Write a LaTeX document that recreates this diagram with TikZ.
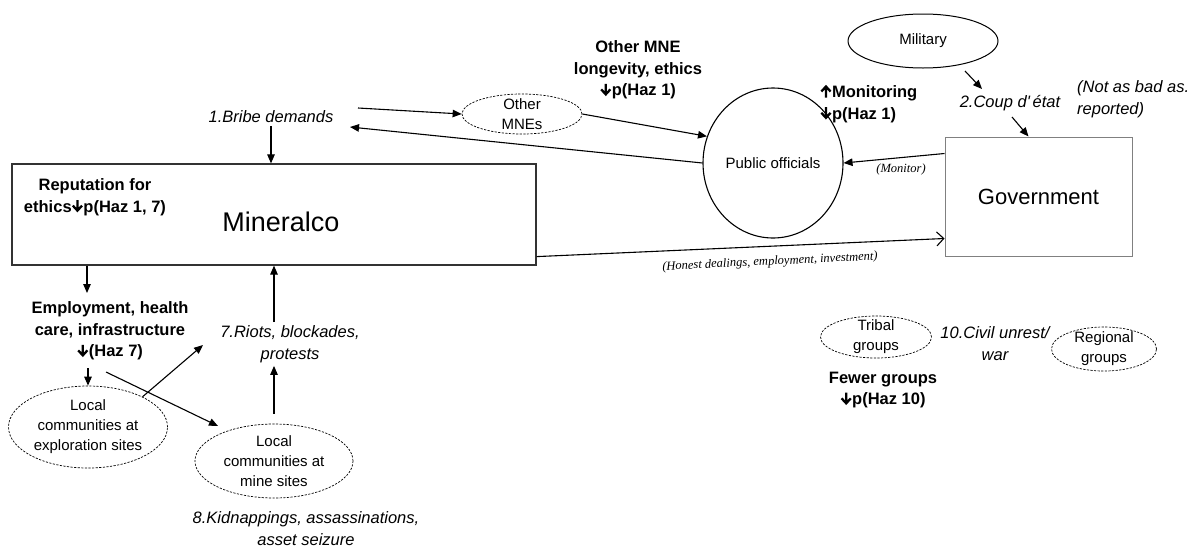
\documentclass[tikz,border=0pt]{standalone}
\usepackage{fontspec}
\setmainfont{Liberation Sans}
\newfontfamily\serifit{Liberation Serif}
\usetikzlibrary{arrows.meta,shapes.geometric,calc}
\newcommand{\dnarr}{\tikz[baseline=0pt]{\draw[line width=2.3pt, line join=miter, line cap=butt] (0pt,12pt) -- (0pt,2pt) (-4.6pt,6.4pt) -- (0pt,1.4pt) -- (4.6pt,6.4pt);}\hspace{0.3pt}}
\newcommand{\uparr}{\tikz[baseline=0pt]{\draw[line width=2.3pt, line join=miter, line cap=butt] (0pt,0pt) -- (0pt,10.5pt) (-4.6pt,6.2pt) -- (0pt,11.2pt) -- (4.6pt,6.2pt);}\hspace{0.3pt}}
\begin{document}
\begin{tikzpicture}[x=1pt,y=-1pt,
 arr/.style={draw, line width=1.1pt, -{Triangle[length=9pt,width=7.5pt]}},
 openarr/.style={draw, line width=1.1pt, -{Straight Barb[length=7pt,width=14pt,line width=1.1pt]}},
 dell/.style={ellipse, draw, line width=0.7pt, dash pattern=on 2.2pt off 1.4pt, align=center, inner sep=0pt, font=\fontsize{15}{20}\selectfont},
 blbl/.style={align=center, inner sep=3pt, font=\bfseries\fontsize{16.5}{21.5}\selectfont},
 ilbl/.style={align=center, inner sep=3pt, font=\itshape\fontsize{16.5}{22}\selectfont},
 slbl/.style={inner sep=1pt, font=\serifit\itshape\fontsize{12.5}{14}\selectfont},
]
\useasboundingbox (0,0) rectangle (1190,552);

% main boxes
\node[draw=black!80, line width=1.2pt, minimum width=524pt, minimum height=101pt, inner sep=0pt] (min) at (274,214.5) {};
\node[font=\fontsize{27}{30}\selectfont, inner sep=0pt] (mintxt) at (281,222) {Mineralco};
\node[draw=black!50, line width=1pt, minimum width=187pt, minimum height=119pt, inner sep=0pt, font=\fontsize{22}{26}\selectfont] (gov) at (1038.5,196.5) {Government};
\node[ellipse, draw, line width=1.1pt, minimum width=140pt, minimum height=150pt, inner sep=0pt, font=\fontsize{15}{20}\selectfont] (po) at (773,163) {Public officials};
\node[ellipse, draw, line width=1pt, minimum width=150pt, minimum height=54pt, inner sep=0pt, font=\fontsize{15}{20}\selectfont] (mil) at (923,41) {Military};

% dashed ellipses
\node[dell, minimum width=120pt, minimum height=40pt, inner ysep=-3pt] (mnes) at (522,114) {Other\\MNEs};
\node[dell, minimum width=159pt, minimum height=82pt] (expl) at (88,427) {Local\\communities at\\exploration sites};
\node[dell, minimum width=158pt, minimum height=74pt, inner ysep=-2pt] (mine) at (274,461) {Local\\communities at\\mine sites};
\node[dell, minimum width=111pt, minimum height=42pt, inner ysep=-3pt] (tribal) at (876,337) {Tribal\\groups};
\node[dell, minimum width=105pt, minimum height=44pt, inner ysep=-3pt] (regional) at (1104,349) {Regional\\groups};

% labels
\node[ilbl] (bribe) at (271,117) {1.Bribe demands};
\node[blbl] (othermne) at (638,70) {Other MNE\\longevity, ethics\\\dnarr p(Haz 1)};
\node[blbl, align=left, anchor=west] (monit) at (817,104) {\uparr Monitoring\\\dnarr p(Haz 1)};
\node[ilbl] (coup) at (1010,103) {2.Coup d\textquotesingle\,état};
\node[ilbl, align=left, anchor=west] (notbad) at (1074,99) {(Not as bad as.\\reported)};
\node[slbl] (monitor) at (901,169) {(Monitor)};
\node[slbl, rotate=2.8] (honest) at (770,262) {(Honest dealings, employment, investment)};
\node[blbl] (rep) at (95,197) {Reputation for\\ethics\dnarr p(Haz 1, 7)};
\node[blbl] (emp) at (110,331) {Employment, health\\care, infrastructure\\\dnarr(Haz 7)};
\node[ilbl] (riots) at (290,344) {7.Riots, blockades,\\protests};
\node[ilbl] (kid) at (306,529) {8.Kidnappings, assassinations,\\asset seizure};
\node[ilbl] (civil) at (995,344) {10.Civil unrest/\\war};
\node[blbl] (fewer) at (883,390) {Fewer groups\\\dnarr p(Haz 10)};

% free ends
\coordinate (b1) at (358,108);
\coordinate (b2) at (350,127);
\coordinate (m1) at (965,71);
\coordinate (m2) at (982,89);
\coordinate (c1) at (1012,117);
\coordinate (e1) at (87,293);
\coordinate (e2) at (88,368);
\coordinate (e3) at (106,372);
\coordinate (e4) at (218,426);
\coordinate (r1) at (203,345);

% connectors
\draw[arr] (bribe.south) -- (bribe.south |- min.north);
\draw[arr] (b1) -- (mnes.west);
\draw[arr] (po.west) -- (b2);
\draw[arr] (mnes.east) -- (po.158);
\draw[arr] ([yshift=-17pt]gov.north west) -- (po.east);
\draw[openarr] ([yshift=9pt]min.south east) -- ([yshift=18pt]gov.south west);
\draw[arr] (m1) -- (m2);
\draw[arr] (c1) -- ([xshift=-10pt]gov.north);
\draw[arr] (e1 |- min.south) -- (e1);
\draw[arr] (e2) -- (expl.north);
\draw[arr] (e3) -- (e4);
\draw[arr] (expl.29) -- (r1);
\draw[arr] (riots.north -| mine.north) -- (mine.north |- min.south);
\draw[arr] ([yshift=10pt]mine.north) -- (riots.south -| mine.north);
\end{tikzpicture}
\end{document}
